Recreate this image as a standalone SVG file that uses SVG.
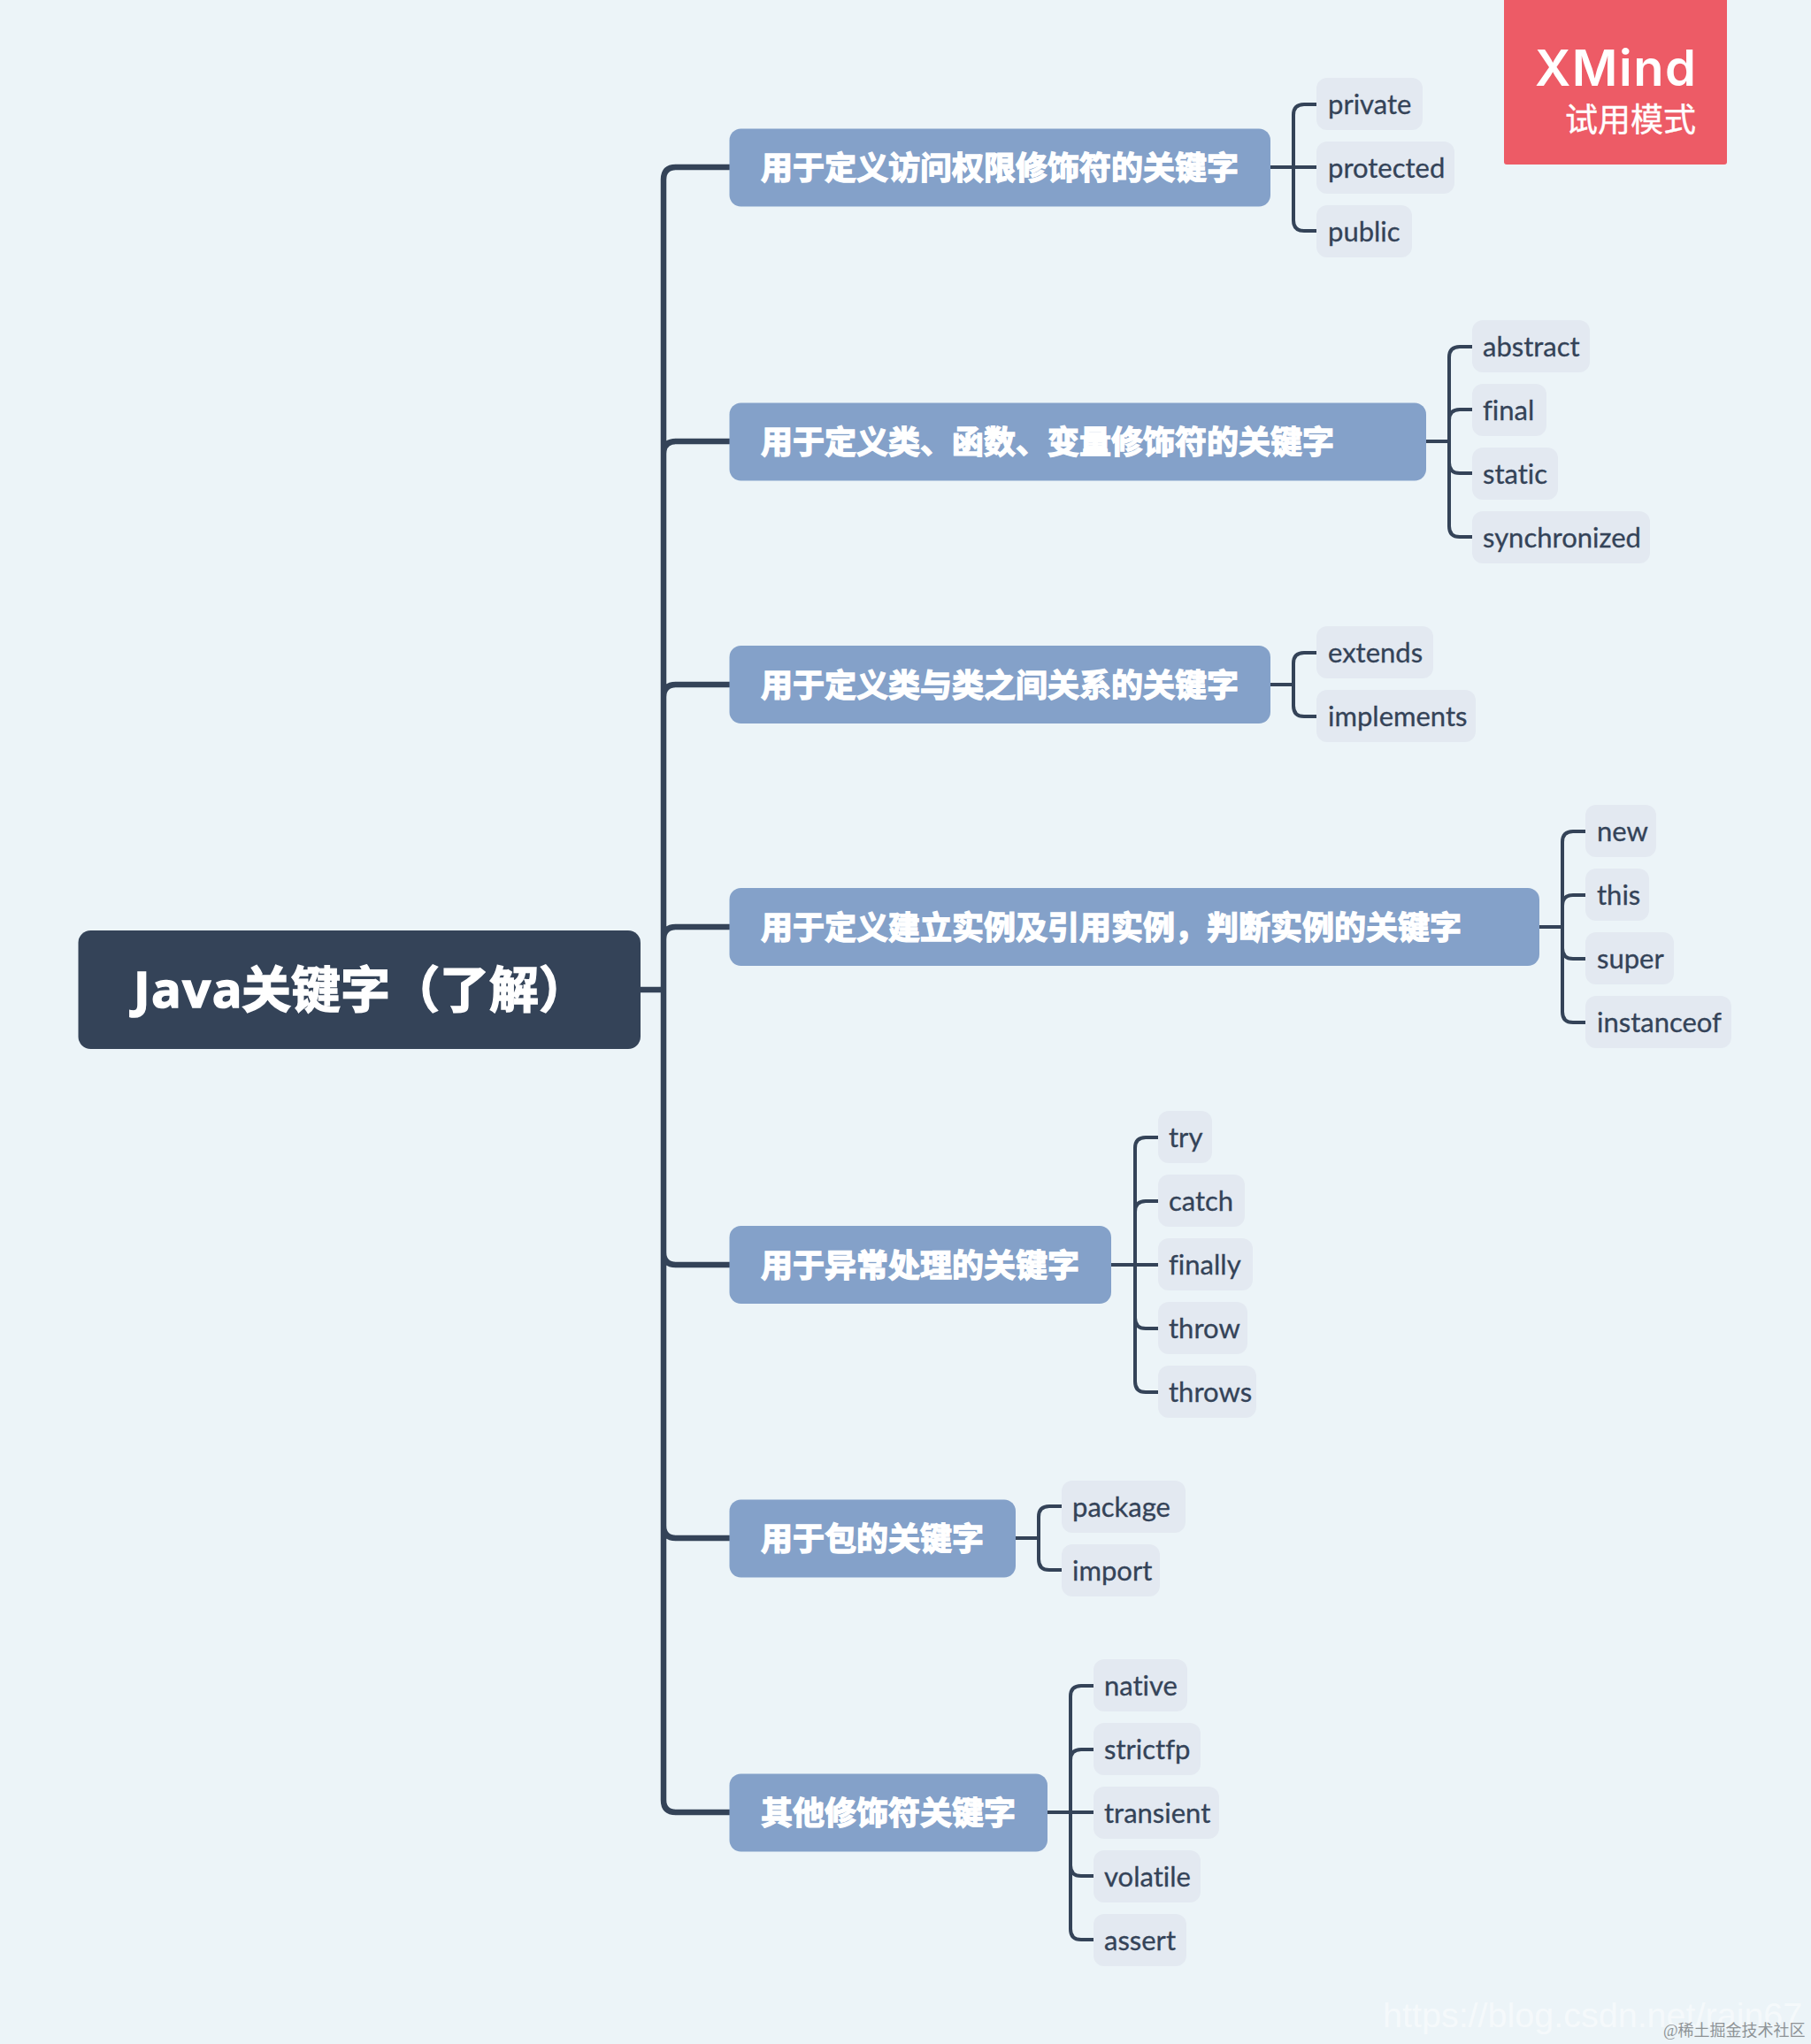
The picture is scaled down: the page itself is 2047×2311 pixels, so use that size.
<svg xmlns="http://www.w3.org/2000/svg" width="2047" height="2311" viewBox="0 0 2047 2311">
<style>
.bg{fill:#ecf4f8}
.main{fill:none;stroke:#344358;stroke-width:6.5;stroke-linecap:butt}
.sub{fill:none;stroke:#344358;stroke-width:4}
.root{fill:#344358}
.br{fill:#84a1c9}
.leaf{fill:#e3e9f1}
.rt{font:700 56px "Open Sans","Noto Sans CJK SC",sans-serif;fill:#fff;stroke:#fff;stroke-width:1.5}
.bt{font:700 36px "Noto Sans CJK SC",sans-serif;fill:#fff;stroke:#fff;stroke-width:1.4}
.lt{font:400 31px Lato,"Noto Sans CJK SC",sans-serif;font-variant-ligatures:none;fill:#344358;stroke:#344358;stroke-width:.3}
</style>
<rect class="bg" width="2047" height="2311"/>
<g id="connectors">
<path class="main" d="M724 1119H750M750 1119V203Q750 189 764 189H825M750 1119V513Q750 499 764 499H825M750 1119V788Q750 774 764 774H825M750 1119V1062Q750 1048 764 1048H825M750 1119V1416Q750 1430 764 1430H825M750 1119V1725Q750 1739 764 1739H825M750 1119V2035Q750 2049 764 2049H825"/>
<path class="sub" d="M1436 189H1488M1462 189V130Q1462 118 1474 118H1488M1462 189V249Q1462 261 1474 261H1488"/>
<path class="sub" d="M1612 499H1638M1638 499V404Q1638 392 1650 392H1664M1638 499V475Q1638 463 1650 463H1664M1638 499V523Q1638 535 1650 535H1664M1638 499V595Q1638 607 1650 607H1664"/>
<path class="sub" d="M1436 774H1462M1462 774V750Q1462 738 1474 738H1488M1462 774V798Q1462 810 1474 810H1488"/>
<path class="sub" d="M1740 1048H1766M1766 1048V952Q1766 940 1778 940H1792M1766 1048V1024Q1766 1012 1778 1012H1792M1766 1048V1072Q1766 1084 1778 1084H1792M1766 1048V1144Q1766 1156 1778 1156H1792"/>
<path class="sub" d="M1256 1430H1309M1283 1430V1298Q1283 1286 1295 1286H1309M1283 1430V1370Q1283 1358 1295 1358H1309M1283 1430V1490Q1283 1502 1295 1502H1309M1283 1430V1562Q1283 1574 1295 1574H1309"/>
<path class="sub" d="M1148 1739H1174M1174 1739V1715Q1174 1703 1186 1703H1200M1174 1739V1763Q1174 1775 1186 1775H1200"/>
<path class="sub" d="M1184 2049H1236M1210 2049V1918Q1210 1906 1222 1906H1236M1210 2049V1990Q1210 1978 1222 1978H1236M1210 2049V2109Q1210 2121 1222 2121H1236M1210 2049V2181Q1210 2193 1222 2193H1236"/>
</g>
<g id="root"><rect class="root" x="88.5" y="1052" width="635.5" height="134" rx="14"/><text class="rt" x="151" y="1139"><tspan letter-spacing="1.5">Java</tspan><tspan x="273">关键字（了解）</tspan></text></g>
<g id="b1"><rect class="br" x="824.5" y="145.5" width="611.5" height="88" rx="13"/><text class="bt" x="860" y="203">用于定义访问权限修饰符的关键字</text></g>
<g id="b2"><rect class="br" x="824.5" y="455.5" width="787.5" height="88" rx="13"/><text class="bt" x="860" y="513">用于定义类、函数、变量修饰符的关键字</text></g>
<g id="b3"><rect class="br" x="824.5" y="730" width="611.5" height="88" rx="13"/><text class="bt" x="860" y="787.5">用于定义类与类之间关系的关键字</text></g>
<g id="b4"><rect class="br" x="824.5" y="1004" width="915.5" height="88" rx="13"/><text class="bt" x="860" y="1061.5">用于定义建立实例及引用实例，判断实例的关键字</text></g>
<g id="b5"><rect class="br" x="824.5" y="1386" width="431.5" height="88" rx="13"/><text class="bt" x="860" y="1443.5">用于异常处理的关键字</text></g>
<g id="b6"><rect class="br" x="824.5" y="1695.5" width="323.5" height="88" rx="13"/><text class="bt" x="860" y="1753">用于包的关键字</text></g>
<g id="b7"><rect class="br" x="824.5" y="2005.5" width="359.5" height="88" rx="13"/><text class="bt" x="860" y="2063">其他修饰符关键字</text></g>
<g id="l-private"><rect class="leaf" x="1488" y="88" width="120" height="59" rx="12"/><text class="lt" x="1501" y="128.5">private</text></g>
<g id="l-protected"><rect class="leaf" x="1488" y="160" width="156" height="59" rx="12"/><text class="lt" x="1501" y="200.5">protected</text></g>
<g id="l-public"><rect class="leaf" x="1488" y="232" width="108" height="59" rx="12"/><text class="lt" x="1501" y="272.5">public</text></g>
<g id="l-abstract"><rect class="leaf" x="1664" y="362" width="133" height="59" rx="12"/><text class="lt" x="1676" y="402.5">abstract</text></g>
<g id="l-final"><rect class="leaf" x="1664" y="434" width="84" height="59" rx="12"/><text class="lt" x="1676" y="474.5">final</text></g>
<g id="l-static"><rect class="leaf" x="1664" y="506" width="97" height="59" rx="12"/><text class="lt" x="1676" y="546.5">static</text></g>
<g id="l-synchronized"><rect class="leaf" x="1664" y="578" width="201" height="59" rx="12"/><text class="lt" x="1676" y="618.5">synchronized</text></g>
<g id="l-extends"><rect class="leaf" x="1488" y="708" width="132" height="59" rx="12"/><text class="lt" x="1501" y="748.5">extends</text></g>
<g id="l-implements"><rect class="leaf" x="1488" y="780" width="180" height="59" rx="12"/><text class="lt" x="1501" y="820.5">implements</text></g>
<g id="l-new"><rect class="leaf" x="1792" y="910" width="80" height="59" rx="12"/><text class="lt" x="1805" y="950.5">new</text></g>
<g id="l-this"><rect class="leaf" x="1792" y="982" width="72" height="59" rx="12"/><text class="lt" x="1805" y="1022.5">this</text></g>
<g id="l-super"><rect class="leaf" x="1792" y="1054" width="100" height="59" rx="12"/><text class="lt" x="1805" y="1094.5">super</text></g>
<g id="l-instanceof"><rect class="leaf" x="1792" y="1126" width="165" height="59" rx="12"/><text class="lt" x="1805" y="1166.5">instanceof</text></g>
<g id="l-try"><rect class="leaf" x="1309" y="1256" width="61" height="59" rx="12"/><text class="lt" x="1321" y="1296.5">try</text></g>
<g id="l-catch"><rect class="leaf" x="1309" y="1328" width="98" height="59" rx="12"/><text class="lt" x="1321" y="1368.5">catch</text></g>
<g id="l-finally"><rect class="leaf" x="1309" y="1400" width="107" height="59" rx="12"/><text class="lt" x="1321" y="1440.5">finally</text></g>
<g id="l-throw"><rect class="leaf" x="1309" y="1472" width="101" height="59" rx="12"/><text class="lt" x="1321" y="1512.5">throw</text></g>
<g id="l-throws"><rect class="leaf" x="1309" y="1544" width="111" height="59" rx="12"/><text class="lt" x="1321" y="1584.5">throws</text></g>
<g id="l-package"><rect class="leaf" x="1200" y="1674" width="140" height="59" rx="12"/><text class="lt" x="1212" y="1714.5">package</text></g>
<g id="l-import"><rect class="leaf" x="1200" y="1746" width="111" height="59" rx="12"/><text class="lt" x="1212" y="1786.5">import</text></g>
<g id="l-native"><rect class="leaf" x="1236" y="1876" width="106" height="59" rx="12"/><text class="lt" x="1248" y="1916.5">native</text></g>
<g id="l-strictfp"><rect class="leaf" x="1236" y="1948" width="121" height="59" rx="12"/><text class="lt" x="1248" y="1988.5">strictfp</text></g>
<g id="l-transient"><rect class="leaf" x="1236" y="2020" width="142" height="59" rx="12"/><text class="lt" x="1248" y="2060.5">transient</text></g>
<g id="l-volatile"><rect class="leaf" x="1236" y="2092" width="121" height="59" rx="12"/><text class="lt" x="1248" y="2132.5">volatile</text></g>
<g id="l-assert"><rect class="leaf" x="1236" y="2164" width="105" height="59" rx="12"/><text class="lt" x="1248" y="2204.5">assert</text></g>
<g id="xmind"><path d="M1700 0H1952V183Q1952 186 1949 186H1703Q1700 186 1700 183Z" fill="#ed5b66"/>
<text x="1735" y="97" textLength="182" lengthAdjust="spacing" font-family="Inter,sans-serif" font-weight="600" font-size="56" fill="#fff">XMind</text>
<text x="1917" y="149" text-anchor="end" font-family="'Noto Sans CJK SC',sans-serif" font-size="37" fill="#fff" stroke="#fff" stroke-width=".4">试用模式</text></g>
<g id="watermarks">
<text x="1563" y="2292" font-family="'Liberation Sans',sans-serif" font-size="39.5" fill="#fff" fill-opacity=".5">https://blog.csdn.net/rain67</text>
<text x="1880" y="2302" font-family="'Liberation Serif','Noto Sans CJK SC',serif" font-size="18" fill="#8e9396">@稀土掘金技术社区</text>
</g>
</svg>
